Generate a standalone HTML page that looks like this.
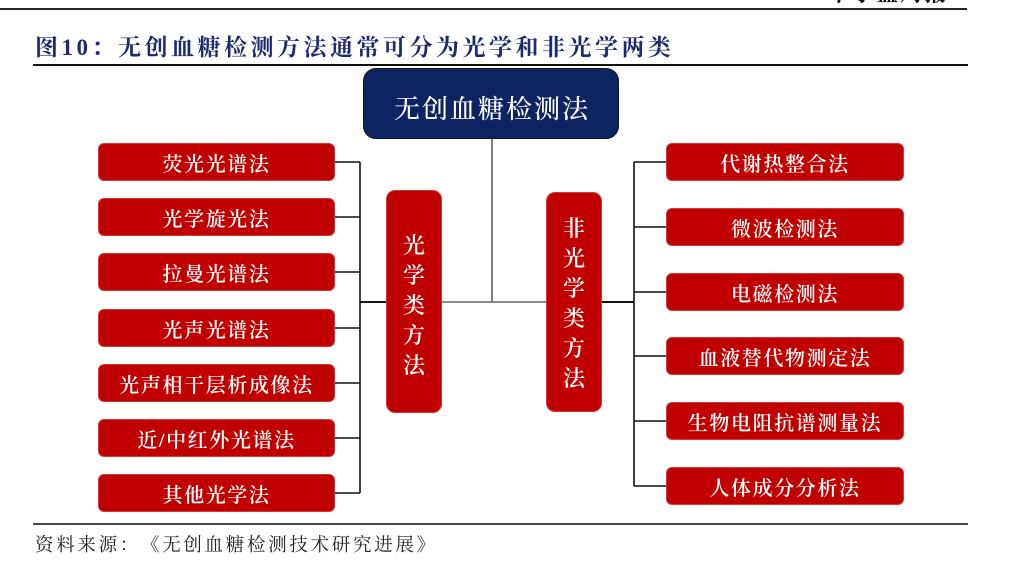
<!DOCTYPE html>
<html>
<head>
<meta charset="utf-8">
<style>
  html,body{margin:0;padding:0;background:#fff;}
  body{width:1024px;height:562px;position:relative;overflow:hidden;
       font-family:"Liberation Serif","Noto Serif CJK SC",serif;text-spacing-trim:space-all;}
  .abs{position:absolute;}
  .cjk{font-family:"Noto Serif CJK SC",serif;}
  .hdr{left:828px;top:-23px;font-size:22px;font-weight:bold;color:#111;letter-spacing:2px;
       font-family:"Liberation Serif","Noto Serif CJK SC",serif;}
  .title{left:35px;top:30px;font-size:23px;line-height:32px;font-weight:bold;color:#1d2a6d;letter-spacing:3.5px;white-space:nowrap;}
  .src{left:35px;top:532px;font-size:18.5px;line-height:24px;color:#222;letter-spacing:2.7px;white-space:nowrap;
       font-family:"Noto Serif CJK SC",serif;text-spacing-trim:space-all;}
  .box{position:absolute;display:flex;align-items:center;justify-content:center;color:#fff;
       font-family:"Liberation Serif","Noto Serif CJK SC",serif;font-weight:600;white-space:nowrap;box-sizing:border-box;}
  .top{left:363px;top:68px;width:256px;height:71px;background:#0c2461;border:1.5px solid #15171f;border-radius:13px;
       font-size:26px;letter-spacing:2px;padding-top:8px;padding-left:2px;font-weight:500;}
  .red{background:#c00000;border-radius:6px;font-size:20px;letter-spacing:1.6px;border:1px solid #d23a3a;}
  .l{left:98px;width:237px;height:38px;}
  .r{left:666px;width:238px;height:38px;}
  .vert{flex-direction:column;font-size:22px;line-height:30px;border-radius:9px;letter-spacing:0;}
</style>
</head>
<body>
<div class="abs hdr">中小盘周报</div>
<div class="abs title">图10<span class="cjk">：</span>无创血糖检测方法通常可分为光学和非光学两类</div>

<svg class="abs" style="left:0;top:0" width="1024" height="562">
  <line x1="0" y1="9" x2="967" y2="9" stroke="#222" stroke-width="2"/>
  <line x1="33" y1="65" x2="968" y2="65" stroke="#111" stroke-width="2"/>
  <line x1="33" y1="524" x2="968" y2="524" stroke="#111" stroke-width="1.6"/>
  <line x1="492" y1="139" x2="492" y2="302" stroke="#555" stroke-width="1.5"/>
  <line x1="442" y1="302" x2="546" y2="302" stroke="#666" stroke-width="1.5"/>
  <g stroke="#111" stroke-width="1.6" fill="none">
    <line x1="360" y1="162" x2="360" y2="493"/>
    <line x1="335" y1="162" x2="360" y2="162"/>
    <line x1="335" y1="217" x2="360" y2="217"/>
    <line x1="335" y1="272" x2="360" y2="272"/>
    <line x1="335" y1="328" x2="360" y2="328"/>
    <line x1="335" y1="383" x2="360" y2="383"/>
    <line x1="335" y1="438" x2="360" y2="438"/>
    <line x1="335" y1="493" x2="360" y2="493"/>
    <line x1="360" y1="302" x2="386" y2="302" stroke-width="2"/>
    <line x1="634" y1="162" x2="634" y2="486"/>
    <line x1="601" y1="302" x2="634" y2="302" stroke-width="2"/>
    <line x1="634" y1="162" x2="666" y2="162"/>
    <line x1="634" y1="227" x2="666" y2="227"/>
    <line x1="634" y1="292" x2="666" y2="292"/>
    <line x1="634" y1="356" x2="666" y2="356"/>
    <line x1="634" y1="421" x2="666" y2="421"/>
    <line x1="634" y1="486" x2="666" y2="486"/>
  </g>
</svg>

<div class="box top">无创血糖检测法</div>

<div class="box red l" style="top:143px">荧光光谱法</div>
<div class="box red l" style="top:198px">光学旋光法</div>
<div class="box red l" style="top:253px">拉曼光谱法</div>
<div class="box red l" style="top:309px">光声光谱法</div>
<div class="box red l" style="top:364px">光声相干层析成像法</div>
<div class="box red l" style="top:419px">近/中红外光谱法</div>
<div class="box red l" style="top:474px">其他光学法</div>

<div class="box red vert" style="left:386px;top:190px;width:56px;height:223px;padding-top:8px;">
  <span>光</span><span>学</span><span>类</span><span>方</span><span>法</span>
</div>
<div class="box red vert" style="left:546px;top:192px;width:56px;height:220px;padding-top:4px;">
  <span>非</span><span>光</span><span>学</span><span>类</span><span>方</span><span>法</span>
</div>

<div class="box red r" style="top:143px">代谢热整合法</div>
<div class="box red r" style="top:208px">微波检测法</div>
<div class="box red r" style="top:273px">电磁检测法</div>
<div class="box red r" style="top:337px">血液替代物测定法</div>
<div class="box red r" style="top:402px">生物电阻抗谱测量法</div>
<div class="box red r" style="top:467px">人体成分分析法</div>

<div class="abs src">资料来源：《无创血糖检测技术研究进展》</div>
</body>
</html>
